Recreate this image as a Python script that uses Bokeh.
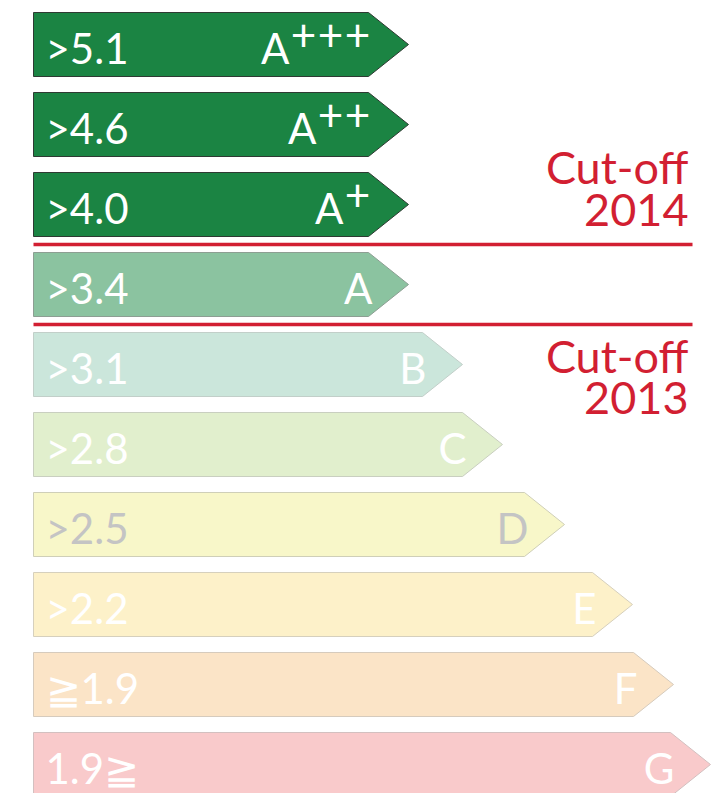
from bokeh.plotting import figure
from bokeh.models import Range1d, ColumnDataSource
from bokeh.core.properties import value
from bokeh.embed import file_html
from bokeh.resources import INLINE

# ---- data ----
classes = ["A+++", "A++", "A+", "A", "B", "C", "D", "E", "F", "G"]
thresholds = [">5.1", ">4.6", ">4.0", ">3.4", ">3.1", ">2.8", ">2.5", ">2.2", "\u22671.9", "1.9\u2267"]
bar_length = [335, 335, 335, 335, 389, 429, 491, 559, 600, 637]
fill_colors = ["#1b8443", "#1b8443", "#1b8443", "#8bc3a0", "#cbe6db",
               "#e1efcd", "#f8f7c9", "#fdf1c9", "#fbe4c7", "#f9cacb"]
border_colors = ["#2f3a33", "#2f3a33", "#2f3a33", "#8d9e93", "#c2cfc9",
                 "#c9cfc0", "#cfcfb8", "#d6d0bd", "#d6cbbd", "#d3c0c0"]
text_colors = ["#ffffff", "#ffffff", "#ffffff", "#ffffff", "#ffffff",
               "#ffffff", "#c4c4c4", "#ffffff", "#ffffff", "#ffffff"]
cutoff_after_row = [2.5, 3.5]
cutoff_years = ["2014", "2013"]
cutoff_side = [-1, 1]   # text above (-1) or below (+1) the line

FONT = "Lato"
RED = "#d21f32"

TIP = 40      # tip length in x units
HALF = 0.4    # half bar height in row units

p = figure(width=722, height=793, output_backend="svg", toolbar_location=None,
           x_range=Range1d(-33, 689), y_range=Range1d(9.3625, -0.55),
           min_border=0)
p.axis.visible = False
p.grid.visible = False
p.outline_line_color = None
p.background_fill_color = "white"

xs, ys = [], []
for i, L in enumerate(bar_length):
    xs.append([0, L, L + TIP, L, 0])
    ys.append([i - HALF, i - HALF, i, i + HALF, i + HALF])

src = ColumnDataSource(dict(xs=xs, ys=ys, fill=fill_colors, line=border_colors))
p.patches("xs", "ys", source=src, fill_color="fill", line_color="line", line_width=1)

rows = list(range(len(classes)))
lab_src = ColumnDataSource(dict(x=[12] * len(rows), y=[r + 0.0375 for r in rows],
                                text=thresholds, color=text_colors))
p.text("x", "y", text="text", source=lab_src, text_color="color",
       text_font=value(FONT), text_font_size="42px",
       text_align="left", text_baseline="middle")

lx, ly, lt, lc = [], [], [], []
px, py, pc = [], [], []
for i, (c, L) in enumerate(zip(classes, bar_length)):
    letter = c[0]
    n = c.count("+")
    if n:
        lx.append(L - 27 * n + 2)
        for k in range(n):
            px.append(L - 11 - 27 * k)
            py.append(i - 0.125)
            pc.append(text_colors[i])
    else:
        lx.append(L + 4)
    ly.append(i + 0.0375)
    lt.append(letter)
    lc.append(text_colors[i])

p.text(lx, ly, text=lt, text_color=lc, text_font=value(FONT), text_font_size="42px",
       text_align="right", text_baseline="middle")
p.text(px, py, text=["+"] * len(px), text_color=pc, text_font=value(FONT),
       text_font_size="44px", text_align="center", text_baseline="middle")

for yline, year, side in zip(cutoff_after_row, cutoff_years, cutoff_side):
    p.line([0, 659], [yline, yline], line_color=RED, line_width=3.5)
    if side < 0:
        y1, y2 = yline - 0.97, yline - 0.4375
    else:
        y1, y2 = yline + 0.394, yline + 0.919
    p.text([655, 655], [y1, y2], text=["Cut-off", year], text_color=RED,
           text_font=value(FONT), text_font_size="45px",
           text_align="right", text_baseline="middle")

open("out.html", "w").write(file_html(p, INLINE))
